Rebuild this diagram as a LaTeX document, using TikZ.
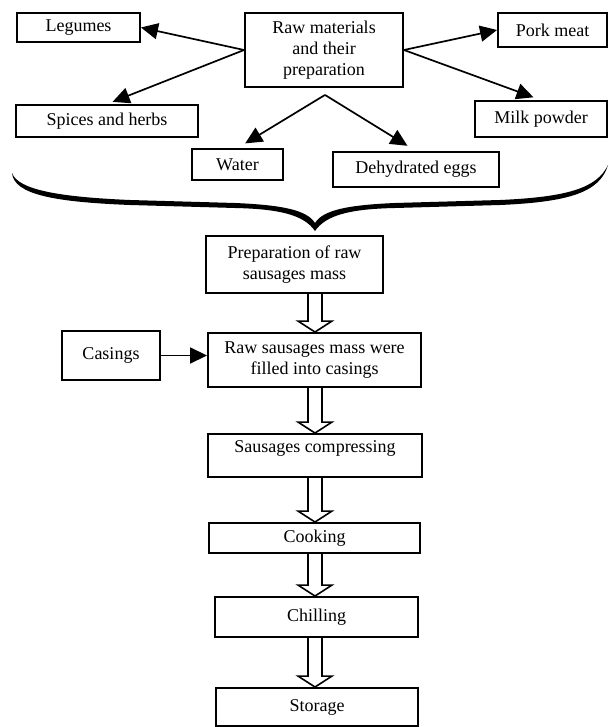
\documentclass[tikz,border=0pt]{standalone}
\usepackage{fontspec}
\setmainfont{Liberation Serif}
\usetikzlibrary{arrows.meta,calc}
\begin{document}
\begin{tikzpicture}[x=1pt,y=-1pt,
  box/.style={draw, line width=1.9pt, inner sep=0pt, align=center, font=\fontsize{18}{21}\selectfont},
  arr/.style={line width=1.7pt, -{Triangle[length=17pt,width=16pt]}},
  hollow/.style={line width=1.6pt, line join=miter}]
\useasboundingbox (0,0) rectangle (609,727);
% top group
\node[box, minimum width=158pt, minimum height=74pt] (raw) at (324,50) {Raw materials\\and their\\preparation};
\node[box, minimum width=123pt, minimum height=29pt] (leg) at (78.5,27.5) {Legumes};
\node[box, minimum width=109pt, minimum height=34pt] (pork) at (552.5,30) {Pork meat};
\node[box, minimum width=182pt, minimum height=32pt] (spices) at (107,121) {Spices and herbs};
\node[box, minimum width=132pt, minimum height=36pt] (milk) at (541,119) {Milk powder};
\node[box, minimum width=91pt, minimum height=31pt] (water) at (237.5,164.5) {Water};
\node[box, minimum width=166pt, minimum height=35pt] (eggs) at (416,169.5) {Dehydrated eggs};
\coordinate (apex) at ($(raw.south)+(1,7)$);
\draw[arr] (raw.west) -- (leg.east);
\draw[arr, shorten >=6pt] (raw.west) -- (spices.north);
\draw[arr] (raw.east) -- (pork.west);
\draw[arr, shorten >=8pt] (raw.east) -- (milk.north);
\draw[arr, shorten >=9pt] (apex) -- (water.north);
\draw[arr, shorten >=10pt] (apex) -- (eggs.north);
% brace
\fill (12,173) .. controls (18,190) and (60,197) .. (130,200) -- (235,203)
  .. controls (282,205) and (307,210) .. (315,223)
  .. controls (323,210) and (348,205) .. (395,203) -- (500,200)
  .. controls (568,197) and (597,188) .. (608,165)
  .. controls (600,192) and (570,202) .. (500,205) -- (395,208)
  .. controls (350,209) and (326,215) .. (315,231)
  .. controls (304,215) and (280,209) .. (235,208) -- (130,205)
  .. controls (56,202) and (14,195) .. (12,173) -- cycle;
% process chain
\coordinate (ax) at (315,0);
\node[box, minimum width=177pt, minimum height=57pt] (prep) at (294.5,264.5) {Preparation of raw\\sausages mass};
\node[box, minimum width=213pt, minimum height=54pt] (fill) at (314.5,360) {Raw sausages mass were\\filled into casings};
\node[box, minimum width=98pt, minimum height=49pt] (cas) at (111,355.5) {Casings};
\node[box, minimum width=214pt, minimum height=43pt, text depth=18pt] (comp) at (315,455.5) {Sausages compressing};
\node[box, minimum width=211pt, minimum height=30pt] (cook) at (314.5,538) {Cooking};
\node[box, minimum width=203pt, minimum height=40pt] (chill) at (316.5,617) {Chilling};
\node[box, minimum width=202pt, minimum height=38pt] (store) at (317,707) {Storage};
\draw[arr] (cas.east) -- (cas.east -| fill.west);
\newcommand\myhollow[2]{%
  \draw[hollow] ($(#1.south -| ax)+(-7,0)$) -- ($(#2.north -| ax)+(-7,-11)$)
    -- ($(#2.north -| ax)+(-17,-11)$) -- (#2.north -| ax)
    -- ($(#2.north -| ax)+(17,-11)$) -- ($(#2.north -| ax)+(7,-11)$)
    -- ($(#1.south -| ax)+(7,0)$);}
\myhollow{prep}{fill}
\myhollow{fill}{comp}
\myhollow{comp}{cook}
\myhollow{cook}{chill}
\myhollow{chill}{store}
\end{tikzpicture}
\end{document}
